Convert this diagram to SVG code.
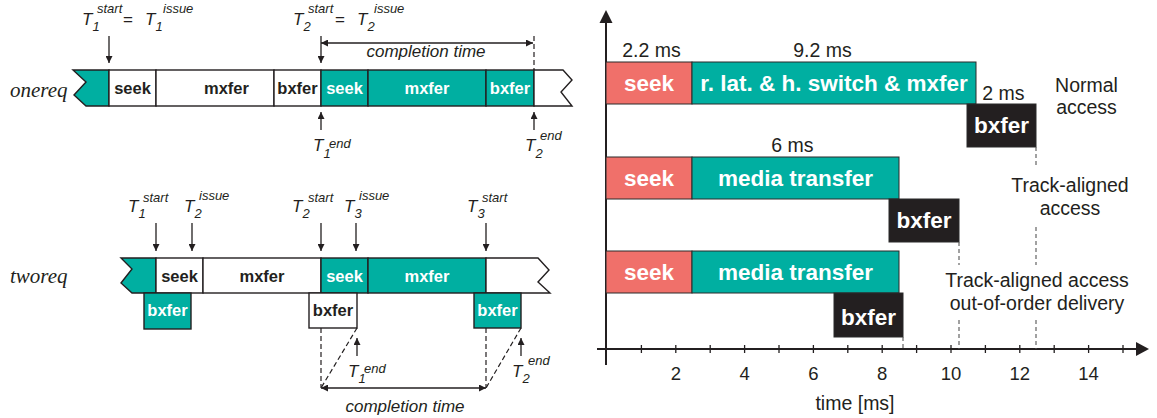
<svg xmlns="http://www.w3.org/2000/svg" width="1157" height="418" viewBox="0 0 1157 418">
  <defs>
    <style>
      .seg { stroke: #231F20; stroke-width: 1.4; }
      .w { fill: #FFFFFF; }
      .t { fill: #00AFA1; }
      .r { fill: #F0706A; }
      .k { fill: #231F20; }
      .lbl { font-family: "Liberation Sans", Arial, sans-serif; font-weight: bold; font-size: 16.5px; text-anchor: middle; }
      .dark { fill: #231F20; }
      .light { fill: #FFFFFF; }
      .row { font-family: "Liberation Serif", "Times New Roman", serif; font-style: italic; font-size: 21px; fill: #231F20; }
      .T { font-family: "Liberation Sans", Arial, sans-serif; font-style: italic; font-size: 17px; fill: #231F20; }
      .s { font-size: 13px; }
      .eq { font-style: normal; }
      .ct { font-family: "Liberation Sans", Arial, sans-serif; font-style: italic; font-size: 17px; fill: #231F20; text-anchor: middle; }
      .ln { stroke: #231F20; stroke-width: 1.3; fill: none; }
      .dash { stroke: #231F20; stroke-width: 1.2; fill: none; stroke-dasharray: 5 3; }
      .bar { stroke: #2B2B2B; stroke-width: 1; }
      .big { font-family: "Liberation Sans", Arial, sans-serif; font-weight: bold; font-size: 22.5px; fill: #FFFFFF; text-anchor: middle; }
      .note { font-family: "Liberation Sans", Arial, sans-serif; font-size: 19.5px; fill: #231F20; text-anchor: middle; }
      .num { font-family: "Liberation Sans", Arial, sans-serif; font-size: 18.5px; fill: #231F20; text-anchor: middle; }
      .gdash { stroke: #555555; stroke-width: 1.1; fill: none; stroke-dasharray: 4 3; }
      .axis { stroke: #231F20; stroke-width: 2; fill: none; }
      .tick { stroke: #231F20; stroke-width: 1.3; }
    </style>
    <marker id="ah" viewBox="0 0 10 10" refX="10" refY="5" markerWidth="8" markerHeight="7" markerUnits="userSpaceOnUse" orient="auto-start-reverse">
      <path d="M0,0 L10,5 L0,10 z" fill="#231F20"/>
    </marker>
  </defs>

  <!-- ===== onereq timeline ===== -->
  <text class="row" x="10" y="97">onereq</text>
  <g id="onereq-bar">
    <polygon class="seg t" points="73,70 109,70 109,106 86,106 74,95 86,82"/>
    <rect class="seg w" x="109" y="70" width="47" height="36"/>
    <rect class="seg w" x="156" y="70" width="118" height="36"/>
    <rect class="seg w" x="274" y="70" width="47" height="36"/>
    <rect class="seg t" x="321" y="70" width="47" height="36"/>
    <rect class="seg t" x="368" y="70" width="118" height="36"/>
    <rect class="seg t" x="486" y="70" width="48" height="36"/>
    <polygon class="seg w" points="534,70 563,70 572,80 561,92 572,106 534,106"/>
    <text class="lbl dark" x="132.5" y="94">seek</text>
    <text class="lbl dark" x="226.5" y="94">mxfer</text>
    <text class="lbl dark" x="297.5" y="94">bxfer</text>
    <text class="lbl light" x="344.5" y="94">seek</text>
    <text class="lbl light" x="427" y="94">mxfer</text>
    <text class="lbl light" x="510" y="94">bxfer</text>
  </g>

  <!-- time-point labels: T with subscript index and superscript event -->
  <g id="onereq-labels">
    <text class="T" x="82" y="25">T<tspan class="s" x="92.5" y="31">1</tspan><tspan class="s" x="97" y="13">start</tspan><tspan class="eq" x="123" y="25">=</tspan></text>
    <text class="T" x="145" y="25">T<tspan class="s" x="155.5" y="31">1</tspan><tspan class="s" x="163" y="13">issue</tspan></text>

    <text class="T" x="293" y="25">T<tspan class="s" x="303.5" y="31">2</tspan><tspan class="s" x="308" y="13">start</tspan><tspan class="eq" x="335" y="25">=</tspan></text>
    <text class="T" x="357" y="25">T<tspan class="s" x="367.5" y="31">2</tspan><tspan class="s" x="374" y="13">issue</tspan></text>

    <text class="T" x="313" y="151">T<tspan class="s" x="323.5" y="158">1</tspan><tspan class="s" x="329" y="148">end</tspan></text>
    <text class="T" x="525" y="151">T<tspan class="s" x="535.5" y="158">2</tspan><tspan class="s" x="540" y="140">end</tspan></text>

    <text class="ct" x="426" y="57">completion time</text>
  </g>

  <!-- ===== tworeq timeline ===== -->
  <text class="row" x="10" y="283">tworeq</text>
  <g id="tworeq-bar">
    <polygon class="seg t" points="121,258 156,258 156,293 132,293 121,283 132,269"/>
    <rect class="seg w" x="156" y="258" width="47" height="35"/>
    <rect class="seg w" x="203" y="258" width="118" height="35"/>
    <rect class="seg t" x="321" y="258" width="47" height="35"/>
    <rect class="seg t" x="368" y="258" width="118" height="35"/>
    <polygon class="seg w" points="486,258 538,258 549,270 538,282 550,293 486,293"/>
    <text class="lbl dark" x="179.5" y="282">seek</text>
    <text class="lbl dark" x="262" y="282">mxfer</text>
    <text class="lbl light" x="344.5" y="282">seek</text>
    <text class="lbl light" x="427" y="282">mxfer</text>
  </g>
  <g id="tworeq-bxfer-1">
    <rect class="seg t" x="144" y="293" width="47" height="36"/>
    <text class="lbl light" x="167.5" y="316">bxfer</text>
  </g>
  <g id="tworeq-bxfer-2">
    <rect class="seg w" x="309" y="293" width="48" height="35"/>
    <text class="lbl dark" x="333" y="316">bxfer</text>
  </g>
  <g id="tworeq-bxfer-3">
    <rect class="seg t" x="474" y="293" width="47" height="35"/>
    <text class="lbl light" x="497.5" y="316">bxfer</text>
  </g>

  <g id="tworeq-labels">
    <text class="T" x="128" y="212">T<tspan class="s" x="138.5" y="218">1</tspan><tspan class="s" x="143" y="202">start</tspan></text>
    <text class="T" x="184" y="212">T<tspan class="s" x="194.5" y="218">2</tspan><tspan class="s" x="199" y="200">issue</tspan></text>
    <text class="T" x="292" y="212">T<tspan class="s" x="302.5" y="218">2</tspan><tspan class="s" x="308" y="202">start</tspan></text>
    <text class="T" x="344" y="212">T<tspan class="s" x="354.5" y="218">3</tspan><tspan class="s" x="359" y="200">issue</tspan></text>
    <text class="T" x="467" y="212">T<tspan class="s" x="477.5" y="218">3</tspan><tspan class="s" x="482" y="202">start</tspan></text>

    <text class="T" x="348" y="377">T<tspan class="s" x="358.5" y="383">1</tspan><tspan class="s" x="364" y="373">end</tspan></text>
    <text class="T" x="512" y="377">T<tspan class="s" x="522.5" y="383">2</tspan><tspan class="s" x="528" y="365">end</tspan></text>

    <text class="ct" x="405" y="412">completion time</text>
  </g>

  <!-- ===== arrows and guide lines of the left timelines ===== -->
  <g id="connectors">
    <line class="ln" x1="109" y1="36" x2="109" y2="63" marker-end="url(#ah)"/>
    <line class="ln" x1="321" y1="36" x2="321" y2="63" marker-end="url(#ah)"/>
    <line class="ln" x1="321" y1="43" x2="533" y2="43" marker-start="url(#ah)" marker-end="url(#ah)"/>
    <line class="dash" x1="534" y1="36" x2="534" y2="70"/>
    <line class="ln" x1="321" y1="130" x2="321" y2="112" marker-end="url(#ah)"/>
    <line class="ln" x1="534" y1="130" x2="534" y2="112" marker-end="url(#ah)"/>

    <line class="ln" x1="156" y1="223" x2="156" y2="251" marker-end="url(#ah)"/>
    <line class="ln" x1="192" y1="223" x2="192" y2="251" marker-end="url(#ah)"/>
    <line class="ln" x1="321" y1="223" x2="321" y2="251" marker-end="url(#ah)"/>
    <line class="ln" x1="356" y1="223" x2="356" y2="251" marker-end="url(#ah)"/>
    <line class="ln" x1="486" y1="223" x2="486" y2="251" marker-end="url(#ah)"/>

    <line class="dash" x1="321" y1="328" x2="321" y2="388"/>
    <line class="dash" x1="357" y1="328" x2="321" y2="388"/>
    <line class="dash" x1="486" y1="328" x2="486" y2="388"/>
    <line class="dash" x1="521" y1="328" x2="486" y2="388"/>
    <line class="ln" x1="357" y1="356" x2="357" y2="338" marker-end="url(#ah)"/>
    <line class="ln" x1="521" y1="356" x2="521" y2="338" marker-end="url(#ah)"/>
    <line class="ln" x1="321" y1="388" x2="486" y2="388" marker-start="url(#ah)" marker-end="url(#ah)"/>
  </g>

  <!-- ===== right chart: access timing ===== -->
  <g id="axes">
    <line class="axis" x1="606" y1="365" x2="606" y2="22"/>
    <polygon class="k" points="606,10 599.5,23 612.5,23"/>
    <line class="axis" x1="597" y1="349" x2="1137" y2="349"/>
    <polygon class="k" points="1149,349 1136,342 1136,356"/>
    <g class="tick">
      <line x1="641.4" y1="345" x2="641.4" y2="353"/>
      <line x1="675.8" y1="345" x2="675.8" y2="353"/>
      <line x1="710.2" y1="345" x2="710.2" y2="353"/>
      <line x1="744.6" y1="345" x2="744.6" y2="353"/>
      <line x1="779" y1="345" x2="779" y2="353"/>
      <line x1="813.4" y1="345" x2="813.4" y2="353"/>
      <line x1="847.8" y1="345" x2="847.8" y2="353"/>
      <line x1="882.2" y1="345" x2="882.2" y2="353"/>
      <line x1="916.6" y1="345" x2="916.6" y2="353"/>
      <line x1="951" y1="345" x2="951" y2="353"/>
      <line x1="985.4" y1="345" x2="985.4" y2="353"/>
      <line x1="1019.8" y1="345" x2="1019.8" y2="353"/>
      <line x1="1054.2" y1="345" x2="1054.2" y2="353"/>
      <line x1="1088.6" y1="345" x2="1088.6" y2="353"/>
      <line x1="1123" y1="345" x2="1123" y2="353"/>
    </g>
    <text class="num" x="675.8" y="380">2</text>
    <text class="num" x="744.6" y="380">4</text>
    <text class="num" x="813.4" y="380">6</text>
    <text class="num" x="882.2" y="380">8</text>
    <text class="num" x="951" y="380">10</text>
    <text class="num" x="1019.8" y="380">12</text>
    <text class="num" x="1088.6" y="380">14</text>
    <text class="note" x="855" y="410">time [ms]</text>
  </g>

  <g id="normal-access">
    <rect class="bar r" x="606" y="62" width="86" height="42"/>
    <rect class="bar t" x="692" y="62" width="284" height="42"/>
    <rect class="bar k" x="967" y="104" width="69" height="43"/>
    <text class="big" x="649" y="91">seek</text>
    <text class="big" x="834" y="91">r. lat. &amp; h. switch &amp; mxfer</text>
    <text class="big" x="1001.5" y="133">bxfer</text>
    <text class="note" x="651.5" y="57">2.2 ms</text>
    <text class="note" x="822.5" y="57">9.2 ms</text>
    <text class="note" x="1003.5" y="100">2 ms</text>
    <text class="note" x="1086.5" y="92">Normal</text>
    <text class="note" x="1086.5" y="114">access</text>
  </g>

  <g id="track-aligned">
    <rect class="bar r" x="606" y="157" width="86" height="42"/>
    <rect class="bar t" x="692" y="157" width="207" height="42"/>
    <rect class="bar k" x="889" y="199" width="70" height="43"/>
    <text class="big" x="649" y="186">seek</text>
    <text class="big" x="795.5" y="186">media transfer</text>
    <text class="big" x="924" y="228">bxfer</text>
    <text class="note" x="792.5" y="152">6 ms</text>
    <text class="note" x="1070" y="192">Track-aligned</text>
    <text class="note" x="1070" y="215">access</text>
  </g>

  <g id="track-aligned-ooo">
    <rect class="bar r" x="606" y="251" width="86" height="42"/>
    <rect class="bar t" x="692" y="251" width="207" height="42"/>
    <rect class="bar k" x="834" y="293" width="69" height="44"/>
    <text class="big" x="649" y="280">seek</text>
    <text class="big" x="795.5" y="280">media transfer</text>
    <text class="big" x="868.5" y="325">bxfer</text>
    <text class="note" x="1037" y="287">Track-aligned access</text>
    <text class="note" x="1037" y="310">out-of-order delivery</text>
  </g>

  <g id="completion-guides">
    <line class="gdash" x1="1036" y1="147" x2="1036" y2="166"/>
    <line class="gdash" x1="1036" y1="227" x2="1036" y2="265"/>
    <line class="gdash" x1="1036" y1="320" x2="1036" y2="349"/>
    <line class="gdash" x1="959" y1="242" x2="959" y2="265"/>
    <line class="gdash" x1="959" y1="320" x2="959" y2="349"/>
    <line class="gdash" x1="903" y1="337" x2="903" y2="349"/>
  </g>
</svg>
